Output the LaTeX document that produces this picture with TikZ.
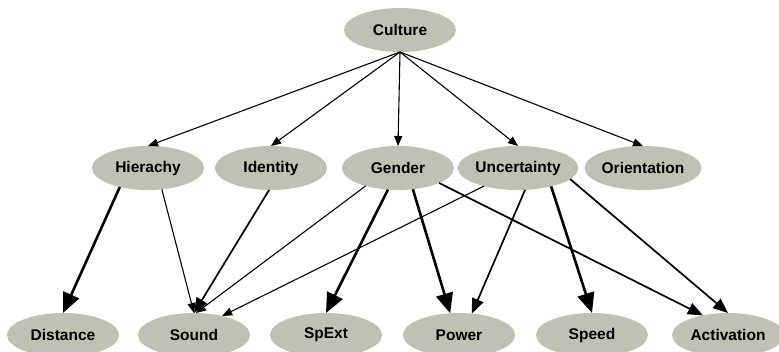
\documentclass[tikz,border=0pt]{standalone}
\usepackage{fontspec}
\setmainfont{Liberation Sans}
\usepackage{xcolor}
\usepackage{tikz}
\usetikzlibrary{arrows.meta, shapes.geometric, calc}
\definecolor{nodegrey}{RGB}{192, 192, 180}

\begin{document}
\begin{tikzpicture}[x=1pt, y=-1pt,
        vnode/.style={ellipse, fill=nodegrey, minimum width=112pt, minimum height=44pt,
            inner sep=0pt, outer sep=0pt, font=\fontsize{15.5}{18}\selectfont\bfseries},
        thinarr/.style={line width=1.1pt, -{Triangle[length=10pt, width=8pt]}},
        medarr/.style={line width=1.7pt, -{Triangle[length=15pt, width=12pt]}},
        thickarr/.style={line width=2.6pt, -{Triangle[length=20pt, width=17pt]}}]
    \useasboundingbox (0,0) rectangle (779,351);

    % nodi
    \node[vnode] (cul) at (400,30) {Culture};
    \node[vnode] (hie) at (148,168) {Hierachy};
    \node[vnode] (ide) at (271,168) {Identity};
    \node[vnode] (gen) at (398,168) {Gender};
    \node[vnode] (unc) at (518,168) {Uncertainty};
    \node[vnode] (ori) at (643,168) {Orientation};
    \node[vnode] (dis) at (63,335) {Distance};
    \node[vnode] (snd) at (194,335) {Sound};
    \node[vnode] (spx) at (326,335) {SpExt};
    \node[vnode] (pow) at (459,335) {Power};
    \node[vnode] (spd) at (592,335) {Speed};
    \node[vnode] (act) at (728,335) {Activation};

    % archi da Culture
    \foreach \t in {hie, ide, gen, unc, ori}
        \draw[thinarr] (cul.south) -- (\t.north);

    % archi verso la riga in basso
    \draw[thickarr] (hie.214) -- (dis.north);
    \draw[thinarr] (hie.303) -- (snd.north);
    \draw[medarr] (ide.265) -- (snd.north);
    \draw[thinarr] (gen.209) -- (snd.85);
    \draw[thinarr] (unc.208) -- (snd.34);
    \draw[thickarr] (gen.245) -- (spx.north);
    \draw[thickarr] (gen.305) -- (pow.112);
    \draw[medarr] (gen.340) -- (act.142);
    \draw[medarr] (unc.288) -- (pow.59);
    \draw[thickarr] (unc.331) -- (spd.north);
    \draw[medarr] (unc.348) -- (act.north);
\end{tikzpicture}
\end{document}
